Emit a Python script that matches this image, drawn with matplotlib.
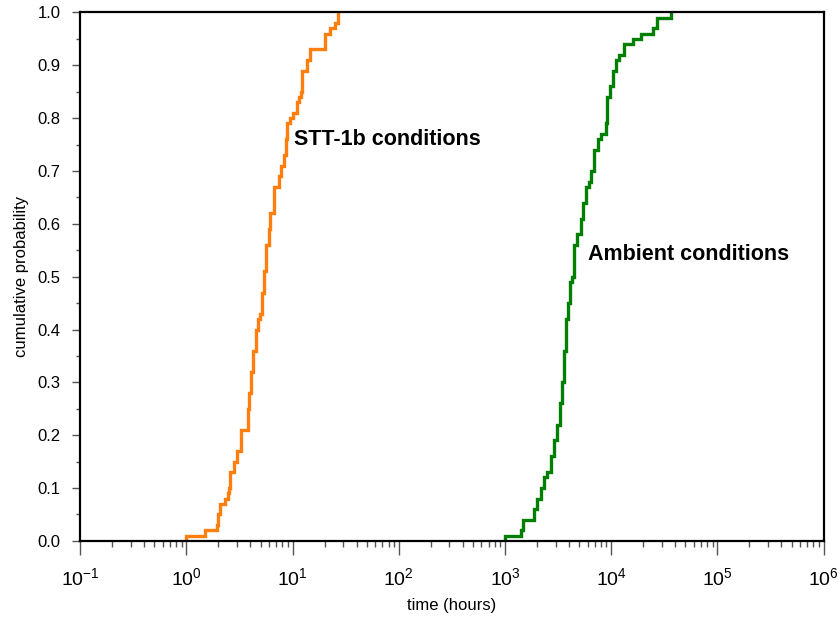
import numpy as np
import matplotlib
matplotlib.use("Agg")
import matplotlib.pyplot as plt
from matplotlib.ticker import LogLocator, MultipleLocator, NullFormatter, FixedFormatter, FixedLocator

plt.rcParams['font.family'] = ['Liberation Sans', 'DejaVu Sans']
plt.rcParams['mathtext.fontset'] = 'custom'
plt.rcParams['mathtext.rm'] = 'Liberation Sans'
plt.rcParams['mathtext.it'] = 'Liberation Sans'

# STT-1b conditions: time (hours) at each step and cumulative probability reached
stt_time = [1.0, 1.0, 1.49, 1.95, 2.0, 2.05, 2.33, 2.45, 2.51, 2.60, 2.79, 3.00, 3.30,
            3.78, 3.87, 4.07, 4.22, 4.54, 4.70, 4.98, 5.17, 5.43, 5.56, 5.97, 6.19,
            6.65, 7.42, 7.69, 8.26, 8.57, 8.89, 9.55, 10.1, 10.9, 11.4, 11.9, 12.3,
            13.2, 13.7, 14.5, 20.1, 22.4, 24.8, 26.7]
stt_prob = [0.00, 0.01, 0.02, 0.03, 0.05, 0.07, 0.08, 0.09, 0.10, 0.13, 0.15, 0.17, 0.21,
            0.25, 0.28, 0.32, 0.36, 0.40, 0.42, 0.43, 0.47, 0.51, 0.56, 0.59, 0.62,
            0.67, 0.69, 0.71, 0.73, 0.76, 0.79, 0.80, 0.81, 0.83, 0.84, 0.85, 0.89,
            0.89, 0.91, 0.93, 0.96, 0.97, 0.98, 1.00]

# Ambient conditions
amb_time = [1000, 1000, 1406, 1490, 1877, 2018, 2169, 2331, 2510, 2698, 2900, 3120, 3280,
            3476, 3600, 3733, 3926, 4100, 4250, 4470, 4740, 5170, 5480, 5760, 6200,
            6520, 6900, 7430, 7980, 8890, 9220, 9700, 10290, 11050, 11880, 13060,
            15880, 19000, 24500, 26700, 36300]
amb_prob = [0.00, 0.01, 0.02, 0.04, 0.06, 0.08, 0.10, 0.12, 0.13, 0.16, 0.19, 0.22, 0.26,
            0.30, 0.36, 0.42, 0.45, 0.49, 0.50, 0.56, 0.58, 0.61, 0.64, 0.67, 0.68,
            0.70, 0.74, 0.76, 0.77, 0.79, 0.84, 0.86, 0.89, 0.91, 0.92, 0.94,
            0.95, 0.96, 0.97, 0.99, 1.00]

x_ticks = [1e-1, 1e0, 1e1, 1e2, 1e3, 1e4, 1e5, 1e6]
x_labels = [r'$10^{-1}$', r'$10^{0}$', r'$10^{1}$', r'$10^{2}$', r'$10^{3}$',
            r'$10^{4}$', r'$10^{5}$', r'$10^{6}$']

fig = plt.figure(figsize=(8.4, 6.21), dpi=100)
ax = fig.add_axes([0.0955, 0.129, 0.885, 0.851])

ax.plot(stt_time, stt_prob, drawstyle='steps-post', color='#ff7f0e', lw=2.4,
        solid_joinstyle='miter')
ax.plot(amb_time, amb_prob, drawstyle='steps-post', color='#007f00', lw=2.4,
        solid_joinstyle='miter')

ax.text(10.2, 0.76, 'STT-1b conditions', fontsize=15.5, fontweight='bold', va='center')
ax.text(6020, 0.542, 'Ambient conditions', fontsize=15.5, fontweight='bold', va='center')

ax.set_xscale('log')
ax.set_xlim(0.1, 1e6)
ax.set_ylim(0, 1)
ax.xaxis.set_major_locator(FixedLocator(x_ticks))
ax.xaxis.set_major_formatter(FixedFormatter(x_labels))
ax.xaxis.set_minor_locator(LogLocator(base=10, subs=np.arange(2, 10), numticks=20))
ax.xaxis.set_minor_formatter(NullFormatter())
ax.yaxis.set_major_locator(MultipleLocator(0.1))
ax.yaxis.set_minor_locator(MultipleLocator(0.05))
ax.yaxis.set_major_formatter(plt.FuncFormatter(lambda v, p: f'{v:.1f}'))

for s in ax.spines.values():
    s.set_linewidth(1.6)
ax.tick_params(axis='x', which='major', direction='out', length=10, width=1, color='#555555',
               labelsize=14, pad=9)
ax.tick_params(axis='x', which='minor', direction='out', length=4, width=1, color='#555555')
ax.tick_params(axis='y', which='major', direction='out', length=6, width=1, color='#555555',
               labelsize=12, pad=8)
ax.tick_params(axis='y', which='minor', direction='out', length=3, width=1, color='#555555')

ax.set_xlabel('time (hours)', fontsize=12, labelpad=6)
ax.set_ylabel('cumulative probability', fontsize=12, labelpad=6)

fig.savefig('out.png', dpi=100)
